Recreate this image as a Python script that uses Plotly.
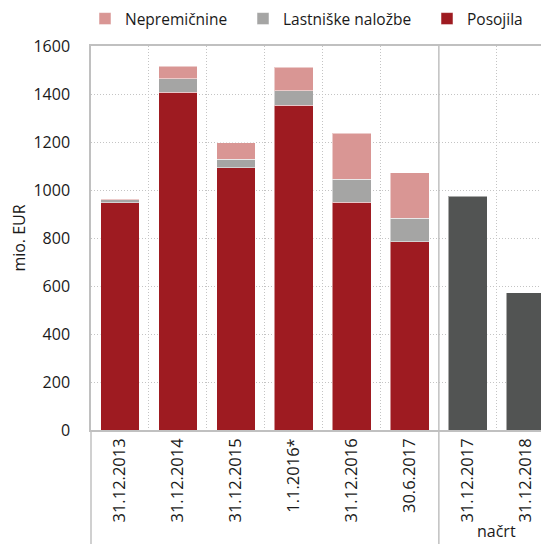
import plotly.graph_objects as go

categories = ["31.12.2013", "31.12.2014", "31.12.2015", "1.1.2016*", "31.12.2016",
              "30.6.2017", "31.12.2017", "31.12.2018"]
posojila = [947, 1408, 1092, 1354, 949, 785, None, None]
lastniske = [13, 56, 36, 60, 96, 97, None, None]
nepremicnine = [2, 51, 69, 98, 192, 189, None, None]
nacrt = [None, None, None, None, None, None, 975, 572]
y_ticks = [0, 200, 400, 600, 800, 1000, 1200, 1400, 1600]
group_label = "načrt"

x = list(range(len(categories)))
FONT = "Open Sans"
line_col = "#C0C0C0"
grid_col = "#C4C4C4"
edge = dict(color="rgba(255,255,255,0.5)", width=1)

# page body has an 8px margin; size the figure so it fills the 549x544 window
OFF = 8
W, H = 549 - OFF, 544 - OFF

fig = go.Figure()
fig.add_trace(go.Bar(x=x, y=posojila, name="Posojila", marker_color="#9E1B21",
                     marker_line=edge, legend="legend3"))
fig.add_trace(go.Bar(x=x, y=lastniske, name="Lastniške naložbe", marker_color="#A5A5A4",
                     marker_line=edge, legend="legend2"))
fig.add_trace(go.Bar(x=x, y=nepremicnine, name="Nepremičnine", marker_color="#D99694",
                     marker_line=edge, legend="legend"))
fig.add_trace(go.Bar(x=x, y=nacrt, name=group_label, marker_color="#525453",
                     showlegend=False, marker_line=edge))

def leg(px):
    return dict(orientation="h", x=(px - OFF) / W, xref="container", xanchor="left",
                y=1 - (19 - OFF) / H, yref="container", yanchor="middle",
                font=dict(size=15.5), itemwidth=30, bgcolor="rgba(0,0,0,0)")

sep = 5.5
fig.update_layout(
    barmode="stack",
    bargap=0.33,
    width=W, height=H,
    margin=dict(l=91 - OFF, r=0, t=46 - OFF, b=H - (430 - OFF), autoexpand=False),
    paper_bgcolor="white", plot_bgcolor="white",
    font=dict(family=FONT, size=16, color="#1a1a1a"),
    showlegend=True,
    legend=leg(85), legend2=leg(243), legend3=leg(427),
    xaxis=dict(
        range=[-0.5, 7.4], automargin=False,
        tickmode="array", tickvals=x, ticktext=categories, tickangle=-90,
        showgrid=False, showline=True, linecolor=line_col, linewidth=1.5,
        mirror=True, ticks="", tickfont=dict(size=16.5),
        minor=dict(tickmode="array",
                   tickvals=[i + 0.5 for i in range(len(categories) - 1) if i + 0.5 != sep],
                   showgrid=True, gridcolor=grid_col, griddash="1px,2px", gridwidth=1),
        zeroline=False,
    ),
    yaxis=dict(
        range=[0, 1600], tickvals=y_ticks, showgrid=True, gridcolor=grid_col,
        griddash="1px,2px", gridwidth=1, showline=True, linecolor=line_col, linewidth=1.5,
        ticks="", ticklabelstandoff=16, zeroline=False, tickfont=dict(size=16),
        automargin=False,
        title=dict(text="mio. EUR", font=dict(size=16), standoff=14),
    ),
)

fig.add_shape(type="line", xref="x", yref="paper", x0=sep, x1=sep, y0=1, y1=-0.3,
              line=dict(color=line_col, width=1.5))
fig.add_shape(type="line", xref="paper", yref="paper", x0=0, x1=0, y0=0, y1=-0.3,
              line=dict(color=line_col, width=1.5))
fig.add_annotation(x=(6 + 7) / 2, xref="x", y=-0.262, yref="paper", text=group_label,
                   showarrow=False, font=dict(size=16), yanchor="middle")

fig.write_html("out.html")
